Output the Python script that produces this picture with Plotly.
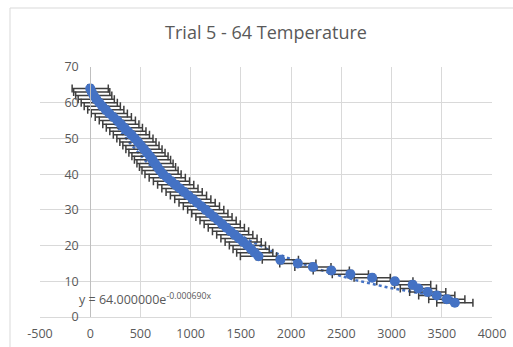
import numpy as np
import plotly.graph_objects as go

# Cooling run: time (s) at which each whole-degree temperature was reached
time_s = [0, 15, 35, 60, 90, 120, 155, 190, 230, 270,
          305, 340, 375, 410, 445, 475, 505, 535, 565, 595,
          620, 645, 670, 695, 725, 767, 809, 851, 893, 935,
          978, 1021, 1064, 1107, 1150, 1191, 1232, 1273, 1314, 1355,
          1397, 1439, 1481, 1523, 1565, 1602, 1638, 1675,
          1893, 2067, 2217, 2400, 2590, 2807, 3033, 3210, 3267, 3360,
          3450, 3550, 3630]
temperature = [64, 63, 62, 61, 60, 59, 58, 57, 56, 55,
               54, 53, 52, 51, 50, 49, 48, 47, 46, 45,
               44, 43, 42, 41, 40, 39, 38, 37, 36, 35,
               34, 33, 32, 31, 30, 29, 28, 27, 26, 25,
               24, 23, 22, 21, 20, 19, 18, 17,
               16, 15, 14, 13, 12, 11, 10, 9, 8, 7,
               6, 5, 4]
time_err = 180      # uncertainty in time (s)
temp_err = 1        # uncertainty in temperature

# Exponential trendline y = A * exp(k x)
fit_a = 64.0
fit_k = -0.000690

x_ticks = [-500, 0, 500, 1000, 1500, 2000, 2500, 3000, 3500, 4000]
y_ticks = [0, 10, 20, 30, 40, 50, 60, 70]

BLUE = "#4472C4"
GRID = "#d9d9d9"
TEXT = "#595959"
FONT = "Open Sans"

fit_x = np.linspace(min(time_s), max(time_s), 200)
fit_y = fit_a * np.exp(fit_k * fit_x)

fig = go.Figure()
fig.add_trace(go.Scatter(
    x=fit_x, y=fit_y, mode="lines",
    line=dict(color=BLUE, width=2.5, dash="dot"),
    hoverinfo="skip", showlegend=False,
))
fig.add_trace(go.Scatter(
    x=time_s, y=temperature, mode="markers",
    marker=dict(color=BLUE, size=10),
    error_x=dict(type="constant", value=time_err, color="#3f3f3f",
                 thickness=1.5, width=4),
    error_y=dict(type="constant", value=temp_err, color="#3f3f3f",
                 thickness=1.5, width=3),
    showlegend=False,
))

L, R, T, B = 40, 21, 67, 30
W, H = 513, 347
pw, ph = W - L - R, H - T - B

fig.update_layout(
    template="none",
    width=W, height=H,
    margin=dict(l=L, r=R, t=T, b=B, pad=0),
    paper_bgcolor="white", plot_bgcolor="white",
    font=dict(family=FONT, color=TEXT, size=12.5),
    title=dict(text="Trial 5 - 64 Temperature", x=0.5, xref="paper",
               xanchor="center", y=(H - 33) / H, yanchor="middle",
               font=dict(family=FONT, size=18, color=TEXT)),
    xaxis=dict(range=[-500, 4000], tickvals=x_ticks, ticktext=[str(v) for v in x_ticks],
               showgrid=True, gridcolor=GRID, gridwidth=1,
               zeroline=False, showline=True, linecolor=GRID, linewidth=1,
               ticks="", ticklabelstandoff=5, automargin=False,
               tickfont=dict(size=12.5, color=TEXT)),
    yaxis=dict(range=[0, 70], tickvals=y_ticks, ticktext=[str(v) for v in y_ticks],
               showgrid=True, gridcolor=GRID, gridwidth=1,
               zeroline=False, showline=True, linecolor="#bfbfbf", linewidth=1,
               anchor="free", position=500 / 4500, side="left",
               ticks="", ticklabelstandoff=9, automargin=False,
               tickfont=dict(size=12.5, color=TEXT)),
    annotations=[dict(
        x=-130, y=5, xref="x", yref="y", xanchor="left", yanchor="middle",
        text="y = 64.000000e<sup>-0.000690x</sup>", showarrow=False,
        font=dict(family=FONT, size=12.5, color=TEXT),
    )],
    shapes=[
        dict(type="line", xref="paper", yref="paper",
             x0=(10 - L) / pw, x1=1.2, y0=(H - B - 8) / ph, y1=(H - B - 8) / ph,
             line=dict(color=GRID, width=1)),
        dict(type="line", xref="paper", yref="paper",
             x0=(10 - L) / pw, x1=(10 - L) / pw, y0=(H - B - 8) / ph, y1=-0.3,
             line=dict(color=GRID, width=1)),
    ],
)

fig.write_html("out.html")
